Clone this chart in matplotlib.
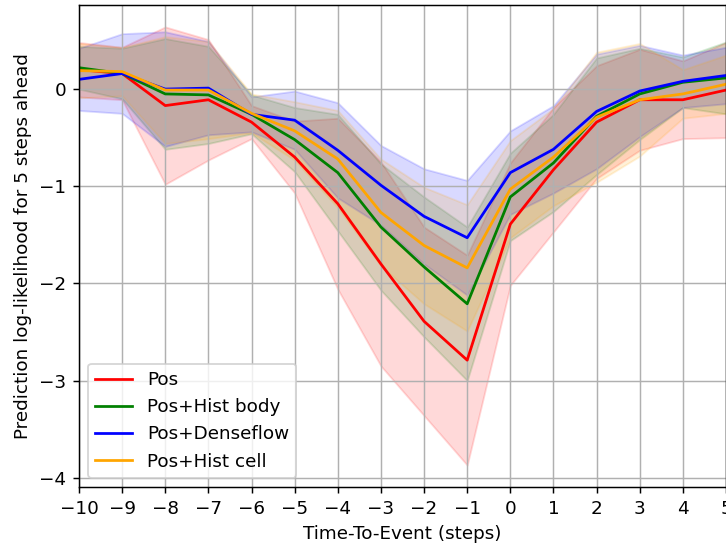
import numpy as np
import matplotlib
matplotlib.use('Agg')
import matplotlib.pyplot as plt

# Time-to-event axis
tte = np.arange(-10, 6)

# Mean prediction log-likelihood (5 steps ahead) per model
ll_pos = [0.20, 0.16, -0.17, -0.11, -0.34, -0.70, -1.18, -1.80, -2.39, -2.79,
          -1.39, -0.83, -0.34, -0.11, -0.11, -0.01]
ll_hist_body = [0.22, 0.16, -0.05, -0.06, -0.26, -0.52, -0.86, -1.42, -1.83, -2.21,
                -1.11, -0.76, -0.28, -0.05, 0.07, 0.115]
ll_denseflow = [0.10, 0.16, 0.00, 0.01, -0.26, -0.32, -0.63, -0.99, -1.31, -1.53,
                -0.86, -0.62, -0.23, -0.02, 0.08, 0.14]
ll_hist_cell = [0.19, 0.18, -0.01, -0.01, -0.25, -0.43, -0.72, -1.27, -1.61, -1.84,
                -1.03, -0.70, -0.29, -0.11, -0.05, 0.05]

# Standard deviations (shaded band = mean +/- std)
sd_pos = [0.28, 0.27, 0.81, 0.62, 0.17, 0.37, 0.88, 1.05, 0.97, 1.08,
          0.63, 0.64, 0.58, 0.52, 0.40, 0.49]
sd_hist_body = [0.22, 0.26, 0.57, 0.50, 0.20, 0.33, 0.60, 0.65, 0.72, 0.79,
                0.45, 0.50, 0.60, 0.47, 0.26, 0.37]
sd_denseflow = [0.32, 0.41, 0.59, 0.48, 0.18, 0.30, 0.49, 0.41, 0.49, 0.59,
                0.43, 0.45, 0.59, 0.47, 0.27, 0.29]
sd_hist_cell = [0.28, 0.25, 0.55, 0.50, 0.20, 0.30, 0.50, 0.55, 0.60, 0.65,
                0.50, 0.50, 0.67, 0.58, 0.25, 0.30]

models = [('Pos', ll_pos, sd_pos, 'red'),
          ('Pos+Hist body', ll_hist_body, sd_hist_body, 'green'),
          ('Pos+Denseflow', ll_denseflow, sd_denseflow, 'blue'),
          ('Pos+Hist cell', ll_hist_cell, sd_hist_cell, 'orange')]

dpi = 132
fig = plt.figure(figsize=(726 / dpi, 548 / dpi), dpi=dpi)
ax = fig.add_axes([0.1088, 0.1113, 0.8912, 0.8796])

for name, mean, sd, col in models:
    mean = np.array(mean)
    sd = np.array(sd)
    ax.plot(tte, mean, color=col, label=name)
    ax.fill_between(tte, mean - sd, mean + sd, color=col, alpha=0.15)

ax.set_xlim(-10, 5)
ax.set_xticks(tte)
ax.grid(True)
ax.set_xlabel('Time-To-Event (steps)')
ax.set_ylabel('Prediction log-likelihood for 5 steps ahead')
ax.legend(loc='lower left')

fig.savefig('out.png', dpi=dpi)
